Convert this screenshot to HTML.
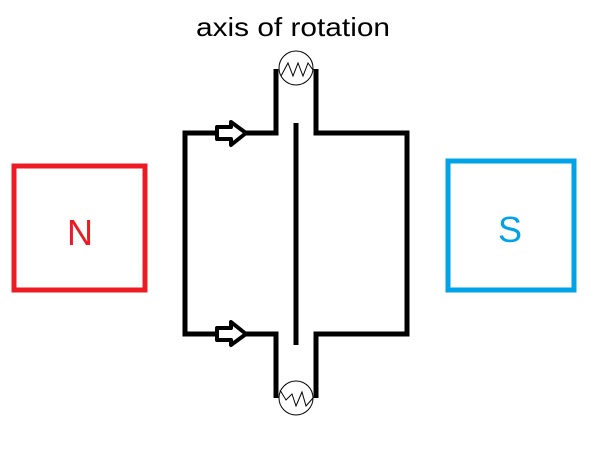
<!DOCTYPE html>
<html><head><meta charset="utf-8"><style>html,body{margin:0;padding:0;background:#fff}svg{display:block}</style></head>
<body>
<svg width="600" height="450" viewBox="0 0 600 450" xmlns="http://www.w3.org/2000/svg">
<text x="196" y="36" font-family="Liberation Sans, sans-serif" font-size="26" textLength="194" lengthAdjust="spacingAndGlyphs" fill="#000">axis of rotation</text>
<rect x="14" y="166" width="131" height="124" fill="none" stroke="#ed1c24" stroke-width="5"/>
<text x="80" y="245" font-family="Liberation Sans, sans-serif" font-size="36" text-anchor="middle" fill="#ed1c24">N</text>
<rect x="448" y="161" width="126" height="129" fill="none" stroke="#00a2e8" stroke-width="5"/>
<text x="510" y="242" font-family="Liberation Sans, sans-serif" font-size="36" text-anchor="middle" fill="#00a2e8">S</text>
<g fill="none" stroke="#000" stroke-width="5" stroke-linejoin="miter">
<polyline points="276,69 276,133 185,133 185,334 276,334 276,398"/>
<polyline points="316,69 316,133 407,133 407,334 316,334 316,398"/>
<line x1="296" y1="123" x2="296" y2="345"/>
</g>
<g fill="#fff" stroke="#000" stroke-width="4" stroke-linejoin="round">
<path d="M217,127 L231,127 L231,122 L246,133 L231,145 L231,139 L217,139 Z"/>
<path d="M217,328 L231,328 L231,322 L246,334 L231,345 L231,340 L217,340 Z"/>
</g>
<g fill="#fff" stroke="#000" stroke-width="1">
<circle cx="296" cy="68" r="17"/>
<polyline points="281,76 288,63 293,76 298,63 303,76 308,63 313,70"/>
<circle cx="296" cy="398" r="17"/>
<polyline points="280,390 286,400 292,394 296,406 302,392 306,406 313,398"/>
</g>
</svg>
</body></html>
